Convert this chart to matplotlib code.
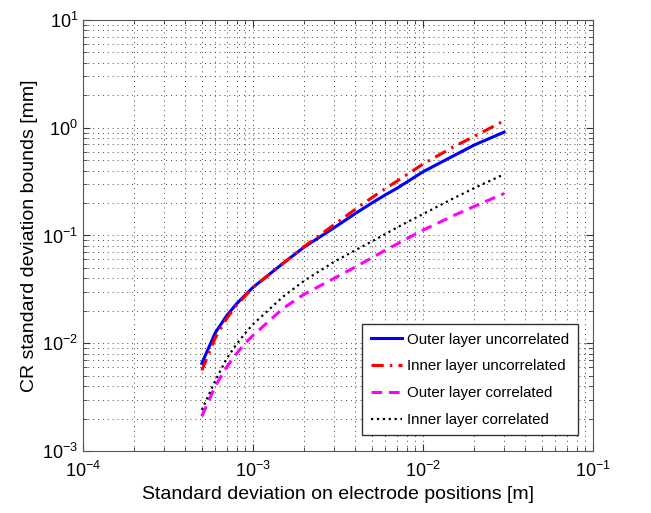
import numpy as np
import matplotlib
matplotlib.use('Agg')
import matplotlib.pyplot as plt

plt.rcParams['font.family'] = ['Liberation Sans', 'DejaVu Sans']
plt.rcParams['mathtext.default'] = 'regular'

# electrode position std [m]
sigma_pos = [5e-4, 6e-4, 7e-4, 8e-4, 9e-4, 1e-3, 1.5e-3, 2e-3, 3e-3, 4e-3,
             5e-3, 6e-3, 7e-3, 8e-3, 1e-2, 1.5e-2, 2e-2, 3e-2]

# CR bounds [mm]
outer_uncorr = [0.0065, 0.0125, 0.0180, 0.0232, 0.0280, 0.0330, 0.055, 0.078, 0.118, 0.160,
                0.200, 0.238, 0.273, 0.312, 0.390, 0.545, 0.690, 0.910]
inner_uncorr = [0.0056, 0.0112, 0.0170, 0.0225, 0.0275, 0.0328, 0.055, 0.079, 0.126, 0.175,
                0.224, 0.272, 0.318, 0.365, 0.460, 0.660, 0.830, 1.160]
outer_corr = [0.0021, 0.0040, 0.0060, 0.0080, 0.0100, 0.0118, 0.0210, 0.0285, 0.040, 0.051,
              0.062, 0.073, 0.083, 0.093, 0.112, 0.152, 0.186, 0.245]
inner_corr = [0.0024, 0.0045, 0.0072, 0.0098, 0.0124, 0.0150, 0.027, 0.038, 0.057, 0.073,
              0.088, 0.103, 0.118, 0.132, 0.158, 0.220, 0.275, 0.370]

fig = plt.figure(figsize=(6.51, 5.13), dpi=100)
ax = fig.add_axes([0.1275, 0.1209, 0.7834, 0.8402])

ax.plot(sigma_pos, outer_uncorr, color='blue', lw=2.2, label='Outer layer uncorrelated')
ax.plot(sigma_pos, inner_uncorr, color='red', lw=2.2, dashes=(4, 2, 0.8, 2), label='Inner layer uncorrelated')
ax.plot(sigma_pos, outer_corr, color='magenta', lw=2.2, dashes=(3.5, 2.2), label='Outer layer correlated')
ax.plot(sigma_pos, inner_corr, color='black', lw=1.6, linestyle=':', label='Inner layer correlated')

ax.set_xscale('log')
ax.set_yscale('log')
ax.set_xlim(1e-4, 1e-1)
ax.set_ylim(1e-3, 1e1)

ax.grid(True, which='both', linestyle=(0, (1, 4)), color='#444444', lw=0.7)
ax.tick_params(which='both', direction='in', top=True, right=True, labelsize=13, colors='#333333')
ax.tick_params(which='major', length=5)
ax.tick_params(which='minor', length=3)
for s in ax.spines.values():
    s.set_color('#555555')
ax.tick_params(axis='x', pad=7)
for lab in ax.get_xticklabels() + ax.get_yticklabels():
    lab.set_color('black')

ax.set_xlabel('Standard deviation on electrode positions [m]', fontsize=14)
ax.set_ylabel('CR standard deviation bounds [mm]', fontsize=14, labelpad=3)

leg = ax.legend(loc='lower right', bbox_to_anchor=(0.97, 0.037), fontsize=10.8,
                frameon=True, fancybox=False, edgecolor='#333333', handlelength=2.1,
                labelspacing=0.85, borderpad=0.55, handletextpad=0.35, borderaxespad=0)
leg.get_frame().set_linewidth(1.0)
leg.get_frame().set_alpha(1)

fig.savefig('out.png', dpi=100)
